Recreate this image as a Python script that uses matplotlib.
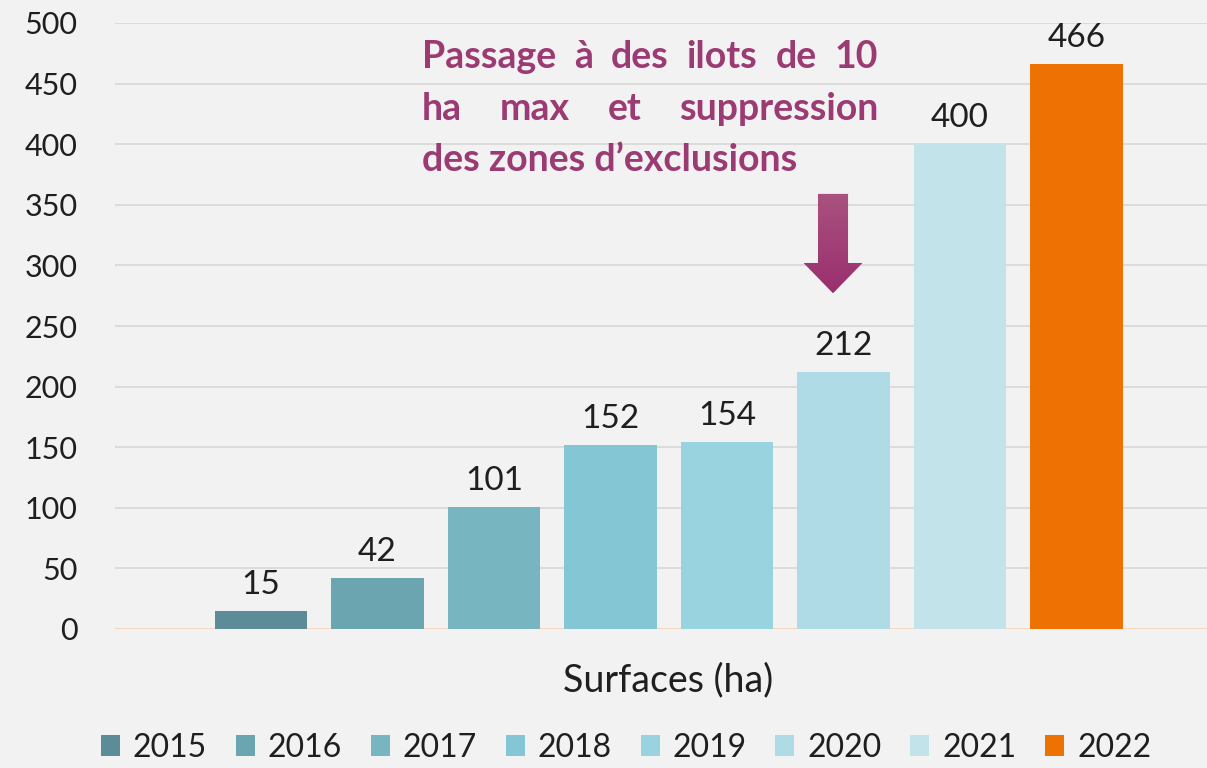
import matplotlib.pyplot as plt
import numpy as np
from matplotlib.colors import LinearSegmentedColormap
from matplotlib.patches import Polygon

years = ["2015", "2016", "2017", "2018", "2019", "2020", "2021", "2022"]
surfaces = [15, 42, 101, 152, 154, 212, 400, 466]
colors = ["#5b8c98", "#6aa5b0", "#77b5c1", "#84c6d3", "#99d3e0",
          "#afdbe6", "#c3e3eb", "#ed7203"]
note_lines = [
    "Passage à des ilots de 10",
    "ha max et suppression",
    "des zones d’exclusions",
]

plt.rcParams['font.family'] = ['Lato', 'DejaVu Sans']
bg = "#f2f2f2"
txt = "#1f1f1f"

fig = plt.figure(figsize=(12.07, 7.68), dpi=100, facecolor=bg)
W, H = 1207, 768
ax = fig.add_axes((115 / W, 139 / H, 1 - 115 / W, 606 / H))
ax.set_facecolor(bg)

x = np.arange(len(years))
for i, (yr, v, c) in enumerate(zip(years, surfaces, colors)):
    ax.bar(x[i], v, width=0.79, color=c, label=yr, zorder=3)
    ax.text(x[i], v + 9, str(v), ha='center', va='bottom',
            fontsize=24, color=txt, zorder=4)

ax.set_xlim(-1.253, 8.12)
ax.set_ylim(0, 500)
ax.set_yticks(np.arange(0, 501, 50))
ax.tick_params(axis='y', length=0, pad=27, labelsize=22, labelcolor=txt)
ax.set_xticks([])
for s in ax.spines.values():
    s.set_visible(False)
ax.grid(axis='y', color='#d9d9d9', linewidth=1.3, zorder=0)
ax.axhline(0, color='#f7d6bb', linewidth=1.3, zorder=2)
ax.yaxis.get_gridlines()[0].set_visible(False)

fig.text(668 / W, 1 - 680 / H, "Surfaces (ha)", ha='center', va='center',
         fontsize=27, color=txt)

fig.legend(loc='center', bbox_to_anchor=(626 / W, 1 - 748 / H), ncol=8,
           frameon=False, fontsize=23, handlelength=0.6,
           handleheight=0.65, handletextpad=0.4, columnspacing=0.9,
           labelcolor=txt)

# arrow with a light gradient
ax_x = 4.91
sw, hw = 0.129, 0.253
y_top, y_head, y_tip = 359, 302, 277
arrow = Polygon([(ax_x - sw, y_top), (ax_x + sw, y_top), (ax_x + sw, y_head),
                 (ax_x + hw, y_head), (ax_x, y_tip), (ax_x - hw, y_head),
                 (ax_x - sw, y_head)], closed=True, facecolor='none',
                edgecolor='none', zorder=5)
ax.add_patch(arrow)
grad = np.linspace(0, 1, 100).reshape(-1, 1)
cmap = LinearSegmentedColormap.from_list("arr", ["#a9527f", "#9a2f6e"])
im = ax.imshow(grad, cmap=cmap, aspect='auto', zorder=5,
               extent=(ax_x - hw, ax_x + hw, y_tip, y_top), origin='upper')
im.set_clip_path(arrow)
ax.set_xlim(-1.253, 8.12)
ax.set_ylim(0, 500)

# justified note text
note_color = "#9c3a73"
left_px, right_px = 422, 878
baselines = [68, 120, 171]
fs = 27
fig.canvas.draw()
renderer = fig.canvas.get_renderer()
for li, (line, base) in enumerate(zip(note_lines, baselines)):
    words = line.split(" ")
    yf = 1 - base / H
    if li == len(note_lines) - 1:
        fig.text(left_px / W, yf, line, fontsize=fs, fontweight='bold',
                 color=note_color, ha='left', va='baseline')
        continue
    artists = []
    widths = []
    for w in words:
        t = fig.text(0, yf, w, fontsize=fs, fontweight='bold',
                     color=note_color, ha='left', va='baseline')
        artists.append(t)
        widths.append(t.get_window_extent(renderer).width)
    gap = (right_px - left_px - sum(widths)) / (len(words) - 1)
    pos = left_px
    for t, wd in zip(artists, widths):
        t.set_x(pos / W)
        pos += wd + gap

fig.savefig("out.png", dpi=100, facecolor=bg)
